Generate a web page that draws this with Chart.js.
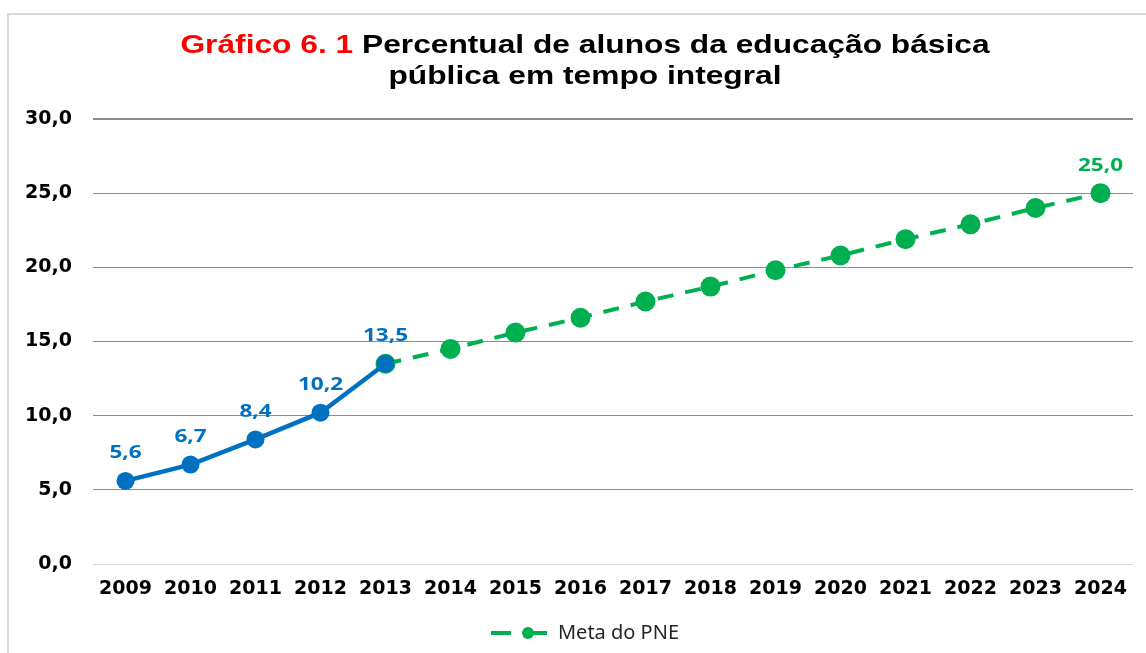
<!DOCTYPE html>
<html>
<head>
<meta charset="utf-8">
<title>Gráfico 6.1</title>
<script src="https://cdn.jsdelivr.net/npm/chart.js@4.4.1/dist/chart.umd.min.js"></script>
<style>
  html, body { margin: 0; padding: 0; background: #fff; }
  #wrap { width: 1146px; height: 653px; position: relative; }
</style>
</head>
<body>
<div id="wrap"><canvas id="chart" width="1146" height="653"></canvas></div>
<script>
// Data
const years = ['2009','2010','2011','2012','2013','2014','2015','2016','2017','2018','2019','2020','2021','2022','2023','2024'];
const observed = [5.6, 6.7, 8.4, 10.2, 13.5, null, null, null, null, null, null, null, null, null, null, null];
const meta = [null, null, null, null, 13.5, 14.5, 15.6, 16.6, 17.7, 18.7, 19.8, 20.8, 21.9, 22.9, 24.0, 25.0];
const yTicks = [0, 5, 10, 15, 20, 25, 30];

const BLUE = '#0070C0';
const GREEN = '#00B050';

const fmt = v => v.toFixed(1).replace('.', ',');

// legend symbol: dashed line with a dot
const legendIcon = document.createElement('canvas');
legendIcon.width = 57;
legendIcon.height = 14;
(function () {
  const c = legendIcon.getContext('2d');
  c.strokeStyle = GREEN;
  c.fillStyle = GREEN;
  c.lineWidth = 4;
  c.beginPath();
  c.moveTo(0, 7); c.lineTo(20, 7);
  c.moveTo(37, 7); c.lineTo(56, 7);
  c.stroke();
  c.beginPath();
  c.arc(37, 7, 6, 0, Math.PI * 2);
  c.fill();
})();

// draw text stretched horizontally (the original is stretched)
function stretchText(c, text, x, y, sx) {
  c.save();
  c.translate(x, y);
  c.scale(sx, 1);
  c.fillText(text, 0, 0);
  c.restore();
}

// frame + two-colour title
const decorations = {
  id: 'decorations',
  afterLayout(chart) {
    // centre the legend under the plot like the original
    chart.legend.left = 37;
  },
  beforeDraw(chart) {
    const c = chart.ctx;
    c.save();
    c.strokeStyle = '#d9d9d9';
    c.lineWidth = 2;
    c.beginPath();
    c.moveTo(8, 653); c.lineTo(8, 14); c.lineTo(1146, 14);
    c.stroke();
    c.restore();
  },
  afterDraw(chart) {
    const c = chart.ctx;
    const sx = 1.22;
    c.save();
    c.font = 'bold 26px "Liberation Sans", Arial, sans-serif';
    c.textBaseline = 'middle';
    c.textAlign = 'left';
    const red = 'Gráfico 6. 1 ';
    const rest = 'Percentual de alunos da educação básica';
    const line2 = 'pública em tempo integral';
    const w1 = c.measureText(red).width * sx;
    const w2 = c.measureText(rest).width * sx;
    const w3 = c.measureText(line2).width * sx;
    const x = 585 - (w1 + w2) / 2;
    c.fillStyle = '#ff0000';
    stretchText(c, red, x, 46, sx);
    c.fillStyle = '#000';
    stretchText(c, rest, x + w1, 46, sx);
    stretchText(c, line2, 585 - w3 / 2, 77, sx);
    c.restore();
  }
};

// value labels above points
const valueLabels = {
  id: 'valueLabels',
  afterDatasetsDraw(chart) {
    const c = chart.ctx;
    const sx = 1.25;
    c.save();
    c.font = 'bold 18px "Open Sans", sans-serif';
    c.textAlign = 'center';
    c.textBaseline = 'middle';
    chart.getDatasetMeta(0).data.forEach((pt, i) => {
      if (observed[i] == null) return;
      c.fillStyle = BLUE;
      stretchText(c, fmt(observed[i]), pt.x, pt.y - 28, sx);
    });
    const gMeta = chart.getDatasetMeta(1).data;
    const last = meta.length - 1;
    c.fillStyle = GREEN;
    stretchText(c, fmt(meta[last]), gMeta[last].x, gMeta[last].y - 27, sx);
    c.restore();
  }
};

const tickFont = { family: '"DejaVu Sans", sans-serif', size: 19, weight: 'bold' };

const ctx = document.getElementById('chart').getContext('2d');
new Chart(ctx, {
  type: 'line',
  data: {
    labels: years,
    datasets: [
      {
        label: 'Observado',
        data: observed,
        borderColor: BLUE,
        backgroundColor: BLUE,
        borderWidth: 4.5,
        pointRadius: 9,
        pointHoverRadius: 9,
        pointBorderWidth: 0,
        tension: 0
      },
      {
        label: 'Meta do PNE',
        data: meta,
        borderColor: GREEN,
        backgroundColor: GREEN,
        borderWidth: 4,
        borderDash: [16, 12],
        pointRadius: 10,
        pointHoverRadius: 10,
        pointBorderWidth: 0,
        tension: 0
      }
    ]
  },
  options: {
    responsive: false,
    animation: false,
    layout: { padding: { top: 119, left: 0, right: 13, bottom: 0 } },
    plugins: {
      title: { display: false },
      tooltip: { enabled: false },
      legend: {
        display: true,
        position: 'bottom',
        labels: {
          generateLabels: () => [{
            text: 'Meta do PNE',
            datasetIndex: 1,
            pointStyle: legendIcon,
            fillStyle: GREEN,
            strokeStyle: GREEN,
            lineWidth: 0,
            fontColor: '#262626'
          }],
          usePointStyle: true,
          pointStyleWidth: 57,
          padding: 10,
          color: '#262626',
          font: { family: '"Noto Sans", sans-serif', size: 20 }
        }
      }
    },
    scales: {
      x: {
        offset: true,
        grid: { display: false },
        border: { display: false },
        afterFit: s => { s.height = 49; },
        ticks: {
          padding: 6,
          color: '#000',
          maxRotation: 0,
          font: tickFont
        }
      },
      y: {
        min: 0,
        max: 30,
        afterFit: s => { s.width = 93; },
        afterBuildTicks: s => { s.ticks = yTicks.map(v => ({ value: v })); },
        border: { display: false },
        grid: {
          drawTicks: false,
          color: c => c.tick.value === 0 ? '#d9d9d9' : '#8c8c8c',
          lineWidth: c => c.tick.value === 30 ? 2 : 1
        },
        ticks: {
          padding: 21,
          color: '#000',
          callback: v => fmt(v),
          font: tickFont
        }
      }
    }
  },
  plugins: [decorations, valueLabels]
});
</script>
</body>
</html>
